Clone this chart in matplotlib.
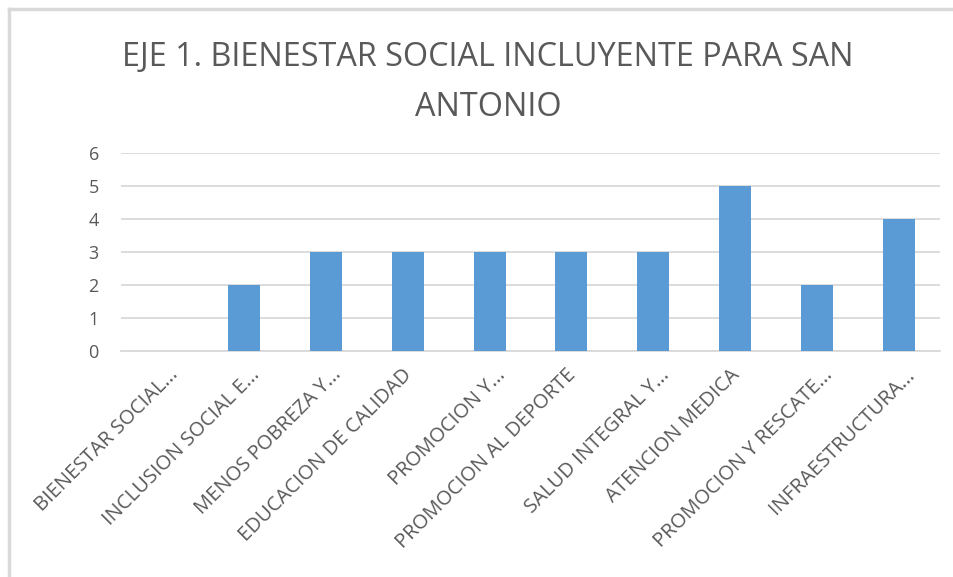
import matplotlib
matplotlib.use("Agg")
import matplotlib.pyplot as plt
import matplotlib.transforms as mtransforms
from matplotlib.lines import Line2D

categories = ["BIENESTAR SOCIAL...", "INCLUSION SOCIAL E...", "MENOS POBREZA Y...",
              "EDUCACION DE CALIDAD", "PROMOCION Y...", "PROMOCION AL DEPORTE",
              "SALUD INTEGRAL Y...", "ATENCION MEDICA", "PROMOCION Y RESCATE...",
              "INFRAESTRUCTURA..."]
values = [0, 2, 3, 3, 3, 3, 3, 5, 2, 4]
yticks = [0, 1, 2, 3, 4, 5, 6]
title = "EJE 1. BIENESTAR SOCIAL INCLUYENTE PARA SAN\nANTONIO"

plt.rcParams['font.family'] = ['Open Sans', 'DejaVu Sans']
txt = '#595959'
grid = '#D9D9D9'

fig = plt.figure(figsize=(9.54, 5.77), dpi=100)
ax = fig.add_axes([121/954, 1-351/577, 819/954, 198/577])

x = list(range(len(categories)))
ax.bar(x, values, width=0.39, color='#5B9BD5', zorder=3)
ax.set_xlim(-0.5, len(categories) - 0.5)
ax.set_ylim(0, 6)
ax.set_yticks(yticks)
ax.set_yticklabels([str(v) for v in yticks], fontsize=13, color=txt)
ax.yaxis.grid(True, color=grid, linewidth=1.3, zorder=0)
ax.set_axisbelow(True)
for s in ['top', 'right', 'left']:
    ax.spines[s].set_visible(False)
ax.spines['bottom'].set_color(grid)
ax.spines['bottom'].set_linewidth(1.3)
ax.tick_params(axis='both', length=0)
ax.tick_params(axis='y', pad=16)

# category labels, rotated; truncated ones sit a bit further right (as in Excel)
ax.set_xticks(x)
ax.set_xticklabels([])
for i, lab in enumerate(categories):
    dx = 13 if lab.endswith('...') else 1
    off = mtransforms.ScaledTranslation(dx/100, -21/100, fig.dpi_scale_trans)
    ax.text(i, 0, lab, transform=ax.get_xaxis_transform() + off,
            rotation=45, ha='right', va='center', rotation_mode='anchor',
            fontsize=14.5, color=txt)

fig.text(488/954, 1-82/577, title, ha='center', va='center', fontsize=23.3,
         color=txt, linespacing=1.68)

# chart border (left and top edges visible)
fig.add_artist(Line2D([9/954, 9/954], [0, 1-9/577], transform=fig.transFigure,
                      color=grid, linewidth=2.5))
fig.add_artist(Line2D([9/954, 1], [1-9/577, 1-9/577], transform=fig.transFigure,
                      color=grid, linewidth=2.5))

fig.savefig('out.png', dpi=100)
